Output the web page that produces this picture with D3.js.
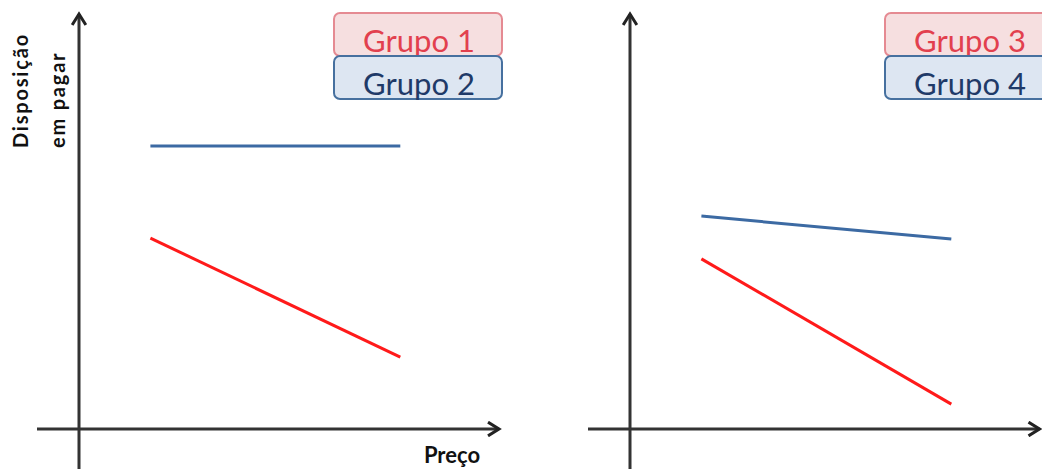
<!DOCTYPE html>
<html>
<head>
<meta charset="utf-8">
<script src="https://cdn.jsdelivr.net/npm/d3@7"></script>
<style>
  html, body { margin: 0; padding: 0; background: #fff; }
  svg { display: block; }
  text { font-family: Lato, "Open Sans", sans-serif; }
</style>
</head>
<body>
<script>
/*
 * Two panels: willingness to pay vs price, one pair of groups per panel.
 */

const WIDTH = 1042;
const HEIGHT = 469;

// data (arbitrary units)
const price = [1.7, 7.65];
const group1 = [4.6, 1.73];
const group2 = [6.82, 6.82];
const group3 = [4.1, 0.6];
const group4 = [5.13, 4.58];

const legendLeft = ['Grupo 1', 'Grupo 2'];
const legendRight = ['Grupo 3', 'Grupo 4'];

// colors
const COLOR_RED = '#ff1a1a';
const COLOR_BLUE = '#3c6aa3';
const COLOR_AXIS = '#333';

const svg = d3.select('body')
  .append('svg')
    .attr('width', WIDTH)
    .attr('height', HEIGHT);

// arrow marker for axes
svg.append('defs')
  .append('marker')
    .attr('id', 'arrow')
    .attr('viewBox', '0 0 12 12')
    .attr('refX', 10)
    .attr('refY', 6)
    .attr('markerWidth', 5.5)
    .attr('markerHeight', 5.5)
    .attr('markerUnits', 'strokeWidth')
    .attr('orient', 'auto')
  .append('path')
    .attr('d', 'M2,1 L10,6 L2,11')
    .attr('fill', 'none')
    .attr('stroke', '#222')
    .attr('stroke-width', 2.2)
    .attr('stroke-linejoin', 'miter');

const drawPanel = (originX, xEnd, seriesA, seriesB, labels) => {
  const xScale = d3.scaleLinear().domain([0, 10]).range([originX, originX + 420]);
  const yScale = d3.scaleLinear().domain([0, 10]).range([429, 14]);

  const g = svg.append('g');

  // x axis
  g.append('line')
      .attr('x1', xScale(-1))
      .attr('x2', xScale(xEnd))
      .attr('y1', yScale(0))
      .attr('y2', yScale(0))
      .attr('stroke', COLOR_AXIS)
      .attr('stroke-width', 3)
      .attr('marker-end', 'url(#arrow)');

  // y axis
  g.append('line')
      .attr('x1', xScale(0))
      .attr('x2', xScale(0))
      .attr('y1', yScale(-1))
      .attr('y2', yScale(10))
      .attr('stroke', COLOR_AXIS)
      .attr('stroke-width', 3)
      .attr('marker-end', 'url(#arrow)');

  const line = d3.line()
      .x(d => xScale(d[0]))
      .y(d => yScale(d[1]));

  g.append('path')
      .datum(d3.zip(price, seriesB))
      .attr('d', line)
      .attr('fill', 'none')
      .attr('stroke', COLOR_BLUE)
      .attr('stroke-width', 3);

  g.append('path')
      .datum(d3.zip(price, seriesA))
      .attr('d', line)
      .attr('fill', 'none')
      .attr('stroke', COLOR_RED)
      .attr('stroke-width', 3);

  // legend boxes
  const boxX = originX + 255;
  const styles = [
    { fill: '#f6dfe0', stroke: '#e58a92', text: '#e2404e', top: 13 },
    { fill: '#dde6f2', stroke: '#46709f', text: '#1f3a68', top: 56 }
  ];
  labels.forEach((label, i) => {
    const s = styles[i];
    g.append('rect')
        .attr('x', boxX)
        .attr('y', s.top)
        .attr('width', 168)
        .attr('height', 43)
        .attr('rx', 6)
        .attr('fill', s.fill)
        .attr('stroke', s.stroke)
        .attr('stroke-width', 2);
    g.append('text')
        .attr('x', boxX + 85)
        .attr('y', s.top + 39)
        .attr('text-anchor', 'middle')
        .attr('fill', s.text)
        .style('font-size', '31px')
        .text(label);
  });
};

drawPanel(79, 10, group1, group2, legendLeft);
drawPanel(630, 9.75, group3, group4, legendRight);

// axis titles
svg.append('text')
    .attr('transform', 'translate(28, 148) rotate(-90)')
    .style('font-size', '20px')
    .style('font-weight', 'bold')
    .style('letter-spacing', '1.8px')
    .attr('fill', '#111')
    .text('Disposição');

svg.append('text')
    .attr('transform', 'translate(65, 148) rotate(-90)')
    .style('font-size', '20px')
    .style('font-weight', 'bold')
    .style('letter-spacing', '1.8px')
    .attr('fill', '#111')
    .text('em pagar');

svg.append('text')
    .attr('x', 452)
    .attr('y', 463)
    .attr('text-anchor', 'middle')
    .style('font-size', '22px')
    .style('font-weight', 'bold')
    .attr('fill', '#111')
    .text('Preço');
</script>
</body>
</html>
